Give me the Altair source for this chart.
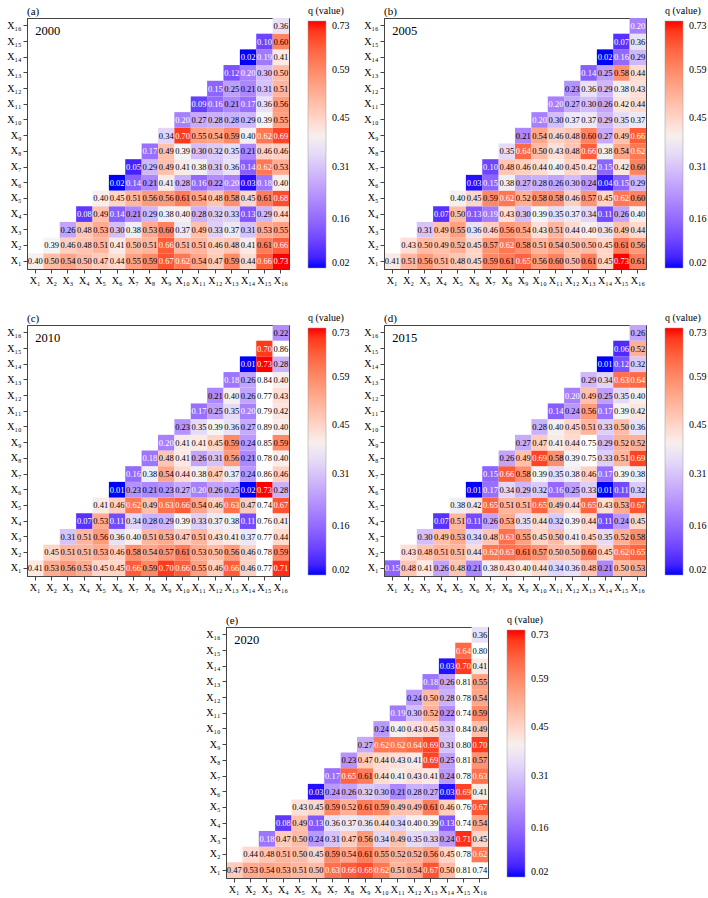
import altair as alt
import pandas as pd

SERIF = "Liberation Serif"

SUB = str.maketrans("0123456789", "₀₁₂₃₄₅₆₇₈₉")
LABELS = ["X" + str(i).translate(SUB) for i in range(1, 17)]

TAGS = ["(a)", "(b)", "(c)", "(d)", "(e)"]
YEARS = ["2000", "2005", "2010", "2015", "2020"]

# each row Xi lists q for columns Xi..X16
Q2000 = [
    [0.40, 0.50, 0.54, 0.50, 0.47, 0.44, 0.55, 0.59, 0.67, 0.62, 0.54, 0.47, 0.59, 0.44, 0.66, 0.73],
    [0.39, 0.46, 0.48, 0.51, 0.41, 0.50, 0.51, 0.66, 0.51, 0.51, 0.46, 0.48, 0.41, 0.61, 0.66],
    [0.26, 0.48, 0.53, 0.30, 0.38, 0.53, 0.60, 0.37, 0.49, 0.33, 0.37, 0.31, 0.53, 0.55],
    [0.08, 0.49, 0.14, 0.21, 0.29, 0.38, 0.40, 0.28, 0.32, 0.33, 0.13, 0.29, 0.44],
    [0.40, 0.45, 0.51, 0.56, 0.56, 0.61, 0.54, 0.48, 0.58, 0.45, 0.61, 0.68],
    [0.02, 0.14, 0.21, 0.41, 0.28, 0.16, 0.22, 0.20, 0.03, 0.18, 0.40],
    [0.05, 0.29, 0.49, 0.41, 0.38, 0.31, 0.36, 0.14, 0.62, 0.53],
    [0.17, 0.49, 0.39, 0.30, 0.32, 0.35, 0.21, 0.46, 0.46],
    [0.34, 0.70, 0.55, 0.54, 0.59, 0.40, 0.62, 0.69],
    [0.20, 0.27, 0.28, 0.28, 0.29, 0.39, 0.55],
    [0.09, 0.16, 0.21, 0.17, 0.36, 0.56],
    [0.15, 0.25, 0.21, 0.31, 0.51],
    [0.12, 0.20, 0.30, 0.50],
    [0.02, 0.19, 0.41],
    [0.10, 0.60],
    [0.36],
]

Q2005 = [
    [0.41, 0.51, 0.56, 0.51, 0.48, 0.45, 0.59, 0.61, 0.65, 0.56, 0.60, 0.50, 0.61, 0.45, 0.73, 0.61],
    [0.43, 0.50, 0.49, 0.52, 0.45, 0.57, 0.62, 0.58, 0.51, 0.54, 0.50, 0.50, 0.45, 0.61, 0.56],
    [0.31, 0.49, 0.55, 0.36, 0.46, 0.56, 0.54, 0.43, 0.51, 0.44, 0.40, 0.36, 0.49, 0.44],
    [0.07, 0.50, 0.13, 0.19, 0.43, 0.30, 0.39, 0.35, 0.37, 0.34, 0.11, 0.26, 0.40],
    [0.40, 0.45, 0.59, 0.62, 0.52, 0.58, 0.58, 0.46, 0.57, 0.45, 0.62, 0.60],
    [0.03, 0.15, 0.38, 0.27, 0.28, 0.26, 0.30, 0.24, 0.04, 0.15, 0.29],
    [0.10, 0.48, 0.46, 0.44, 0.40, 0.45, 0.42, 0.15, 0.42, 0.60],
    [0.35, 0.64, 0.50, 0.43, 0.48, 0.66, 0.38, 0.54, 0.62],
    [0.21, 0.54, 0.46, 0.48, 0.60, 0.27, 0.49, 0.66],
    [0.20, 0.30, 0.37, 0.37, 0.29, 0.35, 0.37],
    [0.20, 0.27, 0.30, 0.26, 0.42, 0.44],
    [0.23, 0.36, 0.29, 0.38, 0.43],
    [0.14, 0.25, 0.58, 0.44],
    [0.02, 0.16, 0.29],
    [0.07, 0.36],
    [0.20],
]

Q2010 = [
    [0.41, 0.53, 0.56, 0.53, 0.45, 0.45, 0.66, 0.59, 0.70, 0.66, 0.55, 0.46, 0.66, 0.46, 0.77, 0.71],
    [0.45, 0.51, 0.51, 0.53, 0.46, 0.58, 0.54, 0.57, 0.61, 0.53, 0.50, 0.56, 0.46, 0.78, 0.59],
    [0.31, 0.51, 0.56, 0.36, 0.40, 0.51, 0.53, 0.47, 0.51, 0.43, 0.41, 0.37, 0.77, 0.44],
    [0.07, 0.53, 0.11, 0.34, 0.28, 0.29, 0.39, 0.33, 0.37, 0.38, 0.11, 0.76, 0.41],
    [0.41, 0.46, 0.62, 0.49, 0.63, 0.66, 0.54, 0.46, 0.63, 0.47, 0.74, 0.67],
    [0.01, 0.23, 0.21, 0.23, 0.27, 0.20, 0.26, 0.25, 0.02, 0.73, 0.28],
    [0.16, 0.38, 0.54, 0.44, 0.38, 0.47, 0.37, 0.24, 0.86, 0.46],
    [0.18, 0.48, 0.41, 0.26, 0.31, 0.56, 0.21, 0.78, 0.40],
    [0.20, 0.41, 0.41, 0.45, 0.59, 0.24, 0.85, 0.59],
    [0.23, 0.35, 0.39, 0.36, 0.27, 0.89, 0.40],
    [0.17, 0.25, 0.35, 0.20, 0.79, 0.42],
    [0.21, 0.40, 0.26, 0.77, 0.43],
    [0.18, 0.26, 0.84, 0.40],
    [0.01, 0.73, 0.28],
    [0.70, 0.86],
    [0.22],
]

Q2015 = [
    [0.15, 0.48, 0.41, 0.26, 0.48, 0.21, 0.38, 0.43, 0.40, 0.44, 0.34, 0.36, 0.48, 0.21, 0.50, 0.53],
    [0.43, 0.48, 0.51, 0.51, 0.44, 0.62, 0.63, 0.61, 0.57, 0.50, 0.50, 0.60, 0.45, 0.62, 0.65],
    [0.30, 0.49, 0.53, 0.34, 0.48, 0.63, 0.55, 0.45, 0.50, 0.41, 0.45, 0.35, 0.52, 0.58],
    [0.07, 0.51, 0.11, 0.26, 0.53, 0.35, 0.44, 0.32, 0.39, 0.44, 0.11, 0.24, 0.45],
    [0.38, 0.42, 0.65, 0.51, 0.51, 0.65, 0.49, 0.44, 0.65, 0.43, 0.53, 0.67],
    [0.01, 0.17, 0.34, 0.29, 0.32, 0.16, 0.25, 0.33, 0.01, 0.11, 0.32],
    [0.15, 0.66, 0.58, 0.39, 0.35, 0.38, 0.46, 0.17, 0.39, 0.38],
    [0.26, 0.49, 0.69, 0.58, 0.39, 0.75, 0.33, 0.51, 0.69],
    [0.27, 0.47, 0.41, 0.44, 0.75, 0.29, 0.52, 0.52],
    [0.28, 0.40, 0.45, 0.51, 0.33, 0.50, 0.36],
    [0.14, 0.24, 0.56, 0.17, 0.39, 0.42],
    [0.20, 0.49, 0.25, 0.35, 0.40],
    [0.29, 0.34, 0.63, 0.64],
    [0.01, 0.12, 0.32],
    [0.06, 0.52],
    [0.26],
]

Q2020 = [
    [0.47, 0.53, 0.54, 0.53, 0.51, 0.50, 0.63, 0.66, 0.68, 0.62, 0.51, 0.54, 0.67, 0.50, 0.81, 0.74],
    [0.44, 0.48, 0.51, 0.50, 0.45, 0.59, 0.54, 0.61, 0.55, 0.52, 0.52, 0.56, 0.45, 0.78, 0.62],
    [0.18, 0.47, 0.50, 0.24, 0.31, 0.47, 0.56, 0.34, 0.49, 0.35, 0.33, 0.24, 0.71, 0.45],
    [0.08, 0.49, 0.13, 0.36, 0.37, 0.36, 0.44, 0.34, 0.40, 0.39, 0.13, 0.74, 0.54],
    [0.43, 0.45, 0.59, 0.52, 0.61, 0.59, 0.49, 0.49, 0.61, 0.46, 0.76, 0.67],
    [0.03, 0.24, 0.26, 0.32, 0.30, 0.21, 0.28, 0.27, 0.03, 0.69, 0.41],
    [0.17, 0.65, 0.61, 0.44, 0.41, 0.43, 0.41, 0.24, 0.78, 0.63],
    [0.23, 0.47, 0.44, 0.43, 0.41, 0.69, 0.25, 0.81, 0.57],
    [0.27, 0.62, 0.62, 0.64, 0.69, 0.31, 0.80, 0.70],
    [0.24, 0.40, 0.43, 0.45, 0.31, 0.84, 0.49],
    [0.19, 0.30, 0.52, 0.22, 0.74, 0.59],
    [0.24, 0.50, 0.28, 0.78, 0.54],
    [0.18, 0.26, 0.81, 0.55],
    [0.03, 0.70, 0.41],
    [0.64, 0.80],
    [0.36],
]

Q_ALL = [Q2000, Q2005, Q2010, Q2015, Q2020]

LEGEND_TICKS = [0.02, 0.16, 0.31, 0.45, 0.59, 0.73]
Q_MIN, Q_MID, Q_MAX = 0.02, 0.39, 0.73

PW, PH = 262, 251

# cells whose label is drawn in white (strong colours)
LIGHT_TEXT = f"datum.q < 0.205 || (datum.q >= 0.615 && datum.q <= {Q_MAX + 0.005})"


def to_frame(rows):
    recs = []
    for i, row in enumerate(rows):
        for k, v in enumerate(row):
            recs.append({"row": LABELS[i], "col": LABELS[i + k], "q": v})
    return pd.DataFrame(recs)


def x_enc():
    return alt.X(
        "col:N",
        sort=LABELS,
        scale=alt.Scale(domain=LABELS, paddingInner=0, paddingOuter=0),
        axis=alt.Axis(title=None, labelAngle=0, labelOverlap=False),
    )


def y_enc():
    return alt.Y(
        "row:N",
        sort=LABELS[::-1],
        scale=alt.Scale(domain=LABELS[::-1], paddingInner=0, paddingOuter=0),
        axis=alt.Axis(title=None, labelOverlap=False),
    )


def panel(tag, year, rows):
    df = to_frame(rows)
    base = alt.Chart(df).encode(x=x_enc(), y=y_enc())

    cells = base.mark_rect().encode(
        color=alt.condition(
            f"datum.q > {Q_MAX + 0.005}",
            alt.value("white"),
            alt.Color(
                "q:Q",
                scale=alt.Scale(
                    domain=[Q_MIN, Q_MID, Q_MAX],
                    range=["#0000ff", "#f4f4f4", "#ff0000"],
                    clamp=True,
                ),
                legend=alt.Legend(
                    title="q (value)",
                    orient="none",
                    legendX=PW + 19,
                    legendY=-12,
                    direction="vertical",
                    gradientLength=247,
                    gradientThickness=18,
                    values=LEGEND_TICKS,
                    format=".2f",
                    titleFont=SERIF,
                    titleFontSize=10,
                    titleFontWeight="normal",
                    titleColor="black",
                    labelFont=SERIF,
                    labelFontSize=10,
                    labelColor="black",
                    labelOffset=6,
                    gradientStrokeColor="#999",
                    gradientStrokeWidth=0.5,
                ),
            ),
        )
    )

    dark_labels = (
        base.transform_filter(f"!({LIGHT_TEXT})")
        .mark_text(font=SERIF, fontSize=8.5, color="black")
        .encode(text=alt.Text("q:Q", format=".2f"))
    )
    light_labels = (
        base.transform_filter(LIGHT_TEXT)
        .mark_text(font=SERIF, fontSize=8.5, color="white")
        .encode(text=alt.Text("q:Q", format=".2f"))
    )

    year_df = pd.DataFrame({"year": [year], "col": [LABELS[0]], "row": [LABELS[-1]]})
    year_text = (
        alt.Chart(year_df)
        .mark_text(font=SERIF, fontSize=12.5, align="left", dx=0, dy=5, color="black")
        .encode(x=x_enc(), y=y_enc(), text="year:N")
    )

    return alt.layer(cells, dark_labels, light_labels, year_text).properties(
        width=PW,
        height=PH,
        title=alt.TitleParams(
            tag, anchor="start", frame="group", font=SERIF, fontSize=11,
            fontWeight="normal", offset=-11,
        ),
    )


def independent(c):
    return c.resolve_scale(
        color="independent", x="independent", y="independent"
    ).resolve_legend(color="independent")


panels = [panel(t, y, q) for t, y, q in zip(TAGS, YEARS, Q_ALL)]

# empty block that shifts the last panel towards the middle
spacer = (
    alt.Chart(pd.DataFrame({"v": [0]}))
    .mark_point(opacity=0)
    .encode(x=alt.X("v:Q", axis=None), y=alt.Y("v:Q", axis=None))
    .properties(width=170, height=10, view=alt.ViewBackground(strokeOpacity=0))
)

row1 = independent(alt.hconcat(panels[0], panels[1], spacing=12))
row2 = independent(alt.hconcat(panels[2], panels[3], spacing=12))
row3 = independent(alt.hconcat(spacer, panels[4], spacing=8))

top = independent(alt.vconcat(row1, row2, spacing=26))

chart = (
    independent(alt.vconcat(top, row3, spacing=21))
    .configure(padding={"left": 6, "top": 5, "right": 0, "bottom": 0})
    .configure_view(stroke="#444", strokeWidth=1)
    .configure_axis(
        labelFont=SERIF,
        labelFontSize=10,
        labelColor="black",
        domainColor="#444",
        tickColor="#444",
        tickSize=4,
        labelPadding=2,
    )
)

chart.save("out.html", embed_options={"renderer": "svg", "actions": False})
